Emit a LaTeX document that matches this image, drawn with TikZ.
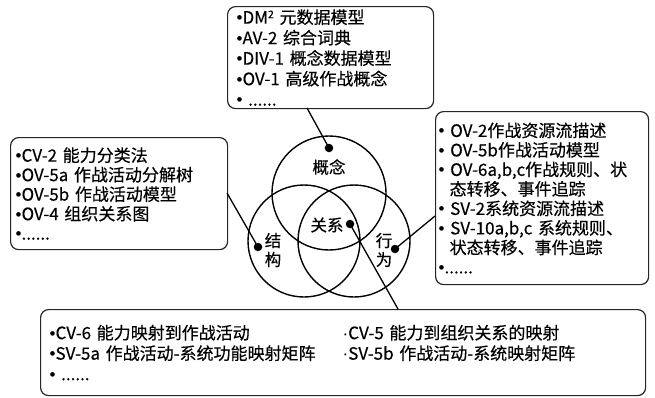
\documentclass[tikz,border=0pt]{standalone}
\usepackage{fontspec}
\setmainfont{Noto Sans CJK SC}[FakeBold=0.35]
\newfontfamily\bulfont{Liberation Sans}
\newcommand\bu{{\bulfont •}}
\newcommand\md{{\bulfont ·}}
\newcommand\suptwo{\raisebox{5.5pt}{\fontsize{10.5}{10}\selectfont 2}}
\begin{document}
\begin{tikzpicture}[x=1pt,y=-1pt,
  box/.style={draw=black!85,line width=1.2pt,rounded corners=8pt,anchor=north west,
    align=left,inner ysep=0pt,font=\fontsize{17}{20.5}\selectfont},
  ring/.style={draw=black,line width=1.4pt,circle,inner sep=0pt,minimum size=#1},
  dotm/.style={fill=black,circle,inner sep=0pt,minimum size=8.5pt},
  lbl/.style={font=\fontsize{16.5}{19}\selectfont,inner sep=0pt,align=center},
  conn/.style={line width=1.3pt,draw=black}]
\useasboundingbox (0,0) rectangle (655,397);
% boxes
\node[box,inner xsep=9pt,text width=188pt,minimum width=206pt,minimum height=102pt] (topbox) at (227,6)
 {\bu DM\suptwo\ 元数据模型\\\bu AV-2 综合词典\\\bu DIV-1 概念数据模型\\\bu OV-1 高级作战概念\\\bu\ ......};
\node[box,inner xsep=5pt,text width=207pt,minimum width=217pt,minimum height=112pt,
  font=\fontsize{17}{19.5}\selectfont] (leftbox) at (10,137)
 {\bu CV-2 能力分类法\\\bu OV-5a 作战活动分解树\\\bu OV-5b 作战活动模型\\\bu OV-4 组织关系图\\\bu......};
\node[box,inner xsep=3pt,text width=207pt,minimum width=213pt,minimum height=173pt,
  font=\fontsize{17}{19.5}\selectfont] (rightbox) at (435,111)
 {\bu\ OV-2作战资源流描述\\\bu\ OV-5b作战活动模型\\\bu\ OV-6a,b,c作战规则、状\\\hspace*{11pt}态转移、事件追踪\\\bu\ SV-2系统资源流描述\\\bu\ SV-10a,b,c 系统规则、\\\hspace*{11pt}状态转移、事件追踪\\\bu......};
\node[box,inner xsep=9pt,text width=587pt,minimum width=605pt,minimum height=86pt] (botbox) at (40,309)
 {\makebox[293pt][l]{\bu CV-6 能力映射到作战活动}\md CV-5 能力到组织关系的映射\\
  \makebox[293pt][l]{\bu SV-5a 作战活动-系统功能映射矩阵}\md SV-5b 作战活动-系统映射矩阵\\
  \bu\ ......};
% circles
\node[ring=114pt] (cT) at (329,193) {};
\node[ring=112pt] (cL) at (304,241) {};
\node[ring=112pt] (cR) at (354,241) {};
% labels
\node[lbl] (lT) at (329,167) {概念};
\node[lbl] (lC) at (327,225) {关系};
\node[lbl] (lL) at (273,250) {结\\构};
\node[lbl] (lR) at (384,250) {行\\为};
% dots
\node[dotm] (dT) at (329,148) {};
\node[dotm] (dL) at (258,247) {};
\node[dotm] (dR) at (395,249) {};
\node[dotm] (dC) at (350,224) {};
% connector ends on boxes
\coordinate (eT) at (307,108);
\coordinate (eL) at (227,193);
\coordinate (eR) at (435,216);
\coordinate (eC) at (398,309);
\draw[conn] (eT) -- (dT.center);
\draw[conn] (eL) -- (dL.center);
\draw[conn] (eR) -- (dR.center);
\draw[conn] (dC.center) -- (eC);
\end{tikzpicture}
\end{document}
